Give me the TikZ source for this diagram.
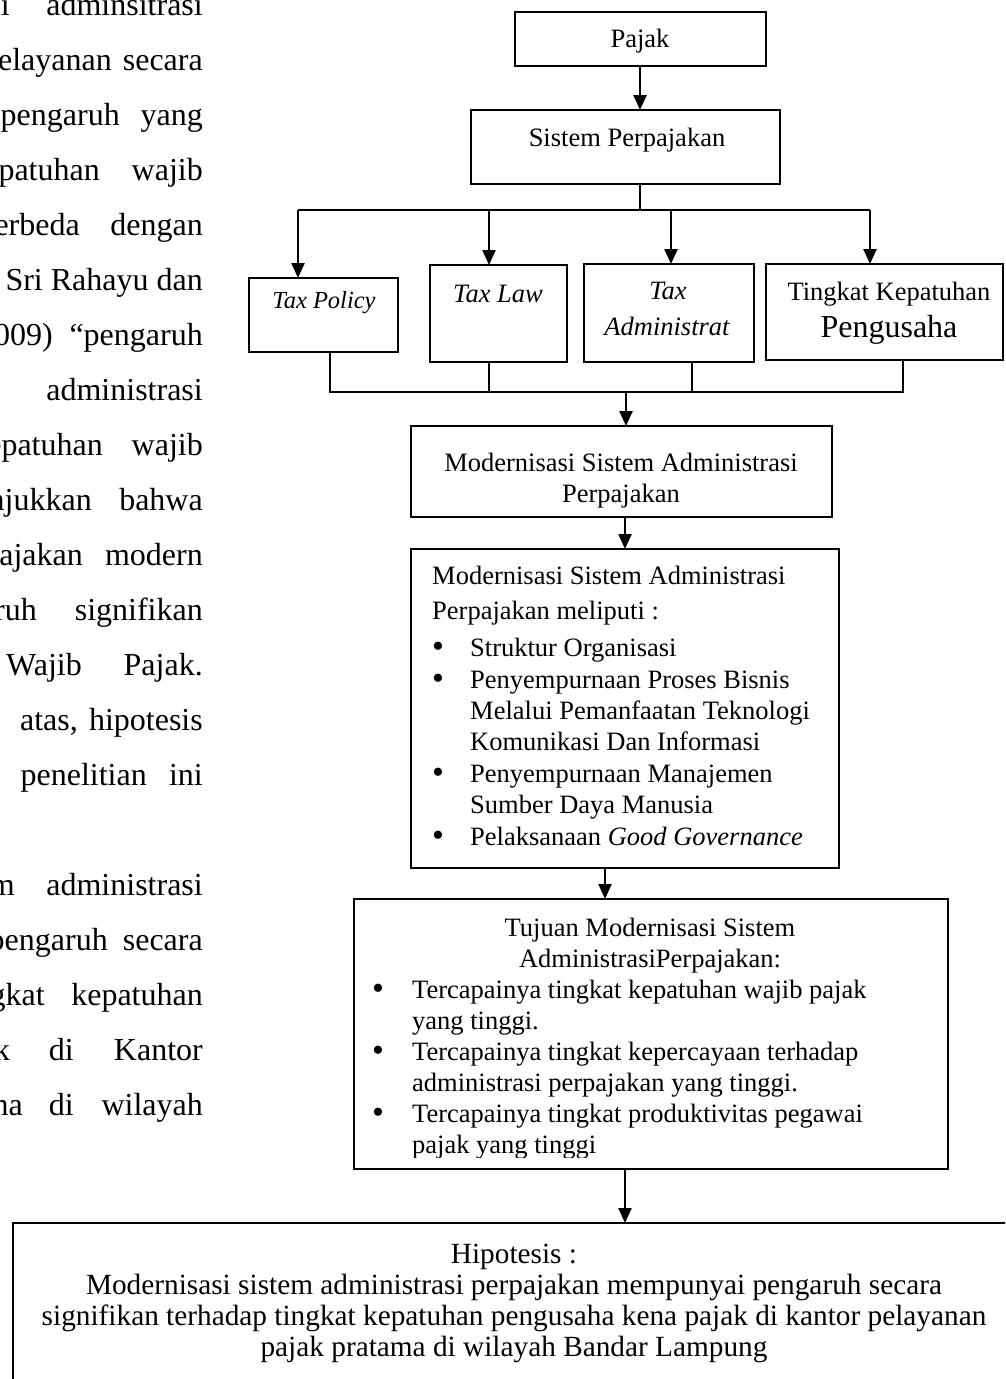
\documentclass[tikz,border=0pt]{standalone}
\usepackage{fontspec}
\setmainfont{Liberation Serif}
\usetikzlibrary{arrows.meta}
\begin{document}
\begin{tikzpicture}[x=1pt,y=-1pt,
  box/.style={draw, line width=2pt, rectangle, inner sep=0pt, outer sep=0pt, anchor=north west},
  con/.style={line width=2pt},
  arr/.style={line width=2.4pt, -{Triangle[length=15pt,width=13pt]}},
  tx/.style={inner sep=0pt, anchor=base, font=\fontsize{26.5}{30}\selectfont},
  tl/.style={inner sep=0pt, anchor=base west, font=\fontsize{26.5}{30}\selectfont},
  bul/.style={inner sep=0pt, anchor=base, font=\fontsize{34}{34}\selectfont},
  ht/.style={inner sep=0pt, anchor=base, font=\fontsize{29.3}{33}\selectfont},
  lt/.style={inner sep=0pt, anchor=base east, font=\fontsize{32}{38}\selectfont},
]
\useasboundingbox (0,0) rectangle (1005,1379);
\clip (0,0) rectangle (1005,1379);

% ---------- left running text (clipped page) ----------
\node[lt] (l0a) at (10,15) {si};
\node[lt] (l0b) at (203,15) {adminsitrasi};
\node[lt] (l1a) at (112,70) {elayanan};
\node[lt] (l1b) at (203,70) {secara};
\node[lt] (l2a) at (120,125) {pengaruh};
\node[lt] (l2b) at (203,125) {yang};
\node[lt] (l3a) at (100,180) {patuhan};
\node[lt] (l3b) at (203,180) {wajib};
\node[lt] (l4a) at (80,235) {erbeda};
\node[lt] (l4b) at (203,235) {dengan};
\node[lt] (l5) at (203,290) {Sri Rahayu dan};
\node[lt] (l6a) at (53,345) {009)};
\node[lt] (l6b) at (203,345) {“pengaruh};
\node[lt] (l7) at (203,400) {administrasi};
\node[lt] (l8a) at (103,455) {epatuhan};
\node[lt] (l8b) at (203,455) {wajib};
\node[lt] (l9a) at (92,510) {njukkan};
\node[lt] (l9b) at (203,510) {bahwa};
\node[lt] (l10a) at (83,565) {pajakan};
\node[lt] (l10b) at (203,565) {modern};
\node[lt] (l11a) at (37,620) {ruh};
\node[lt] (l11b) at (203,620) {signifikan};
\node[lt] (l12a) at (82,675) {Wajib};
\node[lt] (l12b) at (203,675) {Pajak.};
\node[lt] (l13a) at (78,730) {atas,};
\node[lt] (l13b) at (203,730) {hipotesis};
\node[lt] (l14a) at (147,785) {penelitian};
\node[lt] (l14b) at (203,785) {ini};
\node[lt] (l16a) at (15,895) {m};
\node[lt] (l16b) at (203,895) {administrasi};
\node[lt] (l17a) at (108,950) {pengaruh};
\node[lt] (l17b) at (203,950) {secara};
\node[lt] (l18a) at (45,1005) {gkat};
\node[lt] (l18b) at (203,1005) {kepatuhan};
\node[lt] (l19a) at (10,1060) {k};
\node[lt] (l19b) at (74,1060) {di};
\node[lt] (l19c) at (203,1060) {Kantor};
\node[lt] (l20a) at (23,1115) {na};
\node[lt] (l20b) at (74,1115) {di};
\node[lt] (l20c) at (203,1115) {wilayah};

% ---------- boxes ----------
\node[box, minimum width=251pt, minimum height=54pt] (pajak) at (515,12) {};
\node[box, minimum width=309pt, minimum height=74pt] (sistem) at (471,110) {};
\node[box, minimum width=149pt, minimum height=74pt] (tp) at (249,278) {};
\node[box, minimum width=137pt, minimum height=97pt] (tlaw) at (430,265) {};
\node[box, minimum width=170pt, minimum height=98pt] (ta) at (584,264) {};
\node[box, minimum width=237pt, minimum height=96pt] (tk) at (766,264) {};
\node[box, minimum width=421pt, minimum height=91pt] (mod) at (411,426) {};
\node[box, minimum width=428pt, minimum height=319pt] (meli) at (411,549) {};
\node[box, minimum width=594pt, minimum height=270pt] (tuj) at (354,899) {};
\node[box, minimum width=1020pt, minimum height=220pt] (hyp) at (13,1223) {};

% ---------- box texts ----------
\node[tx] (tpajak) at (640,47) {Pajak};
\node[tx] (tsistem) at (627,146) {Sistem Perpajakan};
\node[tx, font=\fontsize{24.5}{28}\selectfont\itshape] (ttp) at (324,308) {Tax Policy};
\node[tx, font=\fontsize{26.5}{30}\selectfont\itshape] (ttl) at (498,302) {Tax Law};
\node[tx, font=\fontsize{26.5}{30}\selectfont\itshape] (tta1) at (668,299) {Tax};
\node[tx, font=\fontsize{26.5}{30}\selectfont\itshape] (tta2) at (667,335) {Administrat};
\node[tx] (ttk1) at (889,300) {Tingkat Kepatuhan};
\node[tx, font=\fontsize{32}{38}\selectfont] (ttk2) at (889,337) {Pengusaha};

\node[tx] (tmod1) at (621,471) {Modernisasi Sistem Administrasi};
\node[tx] (tmod2) at (621,502) {Perpajakan};

\node[tl] (m1) at (432,584) {Modernisasi Sistem Administrasi};
\node[tl] (m2) at (432,619) {Perpajakan meliputi :};
\node[bul] (mb1) at (438,657) {•};
\node[tl] (m3) at (470,656) {Struktur Organisasi};
\node[bul] (mb2) at (438,689) {•};
\node[tl] (m4) at (470,688) {Penyempurnaan Proses Bisnis};
\node[tl] (m5) at (470,719) {Melalui Pemanfaatan Teknologi};
\node[tl] (m6) at (470,750) {Komunikasi Dan Informasi};
\node[bul] (mb3) at (438,783) {•};
\node[tl] (m7) at (470,782) {Penyempurnaan Manajemen};
\node[tl] (m8) at (470,813) {Sumber Daya Manusia};
\node[bul] (mb4) at (438,846) {•};
\node[tl] (m9) at (470,845) {Pelaksanaan \textit{Good Governance}};

\node[tx] (u1) at (650,936) {Tujuan Modernisasi Sistem};
\node[tx] (u2) at (650,967) {AdministrasiPerpajakan:};
\node[bul] (ub1) at (378,999) {•};
\node[tl] (u3) at (412,998) {Tercapainya tingkat kepatuhan wajib pajak};
\node[tl] (u4) at (412,1029) {yang tinggi.};
\node[bul] (ub2) at (378,1061) {•};
\node[tl] (u5) at (412,1060) {Tercapainya tingkat kepercayaan terhadap};
\node[tl] (u6) at (412,1091) {administrasi perpajakan yang tinggi.};
\node[bul] (ub3) at (378,1123) {•};
\node[tl] (u7) at (412,1122) {Tercapainya tingkat produktivitas pegawai};
\begin{scope}
\clip (356,1100) rectangle (946,1157);
\node[tl] (u8) at (412,1153) {pajak yang tinggi};
\end{scope}

\node[ht] (h1) at (514,1263) {Hipotesis :};
\node[ht] (h2) at (514,1294) {Modernisasi sistem administrasi perpajakan mempunyai pengaruh secara};
\node[ht] (h3) at (514,1325) {signifikan terhadap tingkat kepatuhan pengusaha kena pajak di kantor pelayanan};
\node[ht] (h4) at (514,1356) {pajak pratama di wilayah Bandar Lampung};

% ---------- connectors ----------
\coordinate (a1) at (640,66);
\draw[arr] (a1) -- (a1 |- sistem.north);
\coordinate (j1) at (640,210);
\draw[con] (a1 |- sistem.south) -- (j1);
\coordinate (t1) at (298,210);
\coordinate (t2) at (489,210);
\coordinate (t3) at (671,210);
\coordinate (t4) at (870,210);
\draw[con] (t1) -- (t4);
\draw[arr] (t1) -- (t1 |- tp.north);
\draw[arr] (t2) -- (t2 |- tlaw.north);
\draw[arr] (t3) -- (t3 |- ta.north);
\draw[arr] (t4) -- (t4 |- tk.north);

\coordinate (b1) at (330,392);
\coordinate (b2) at (489,392);
\coordinate (b3) at (692,392);
\coordinate (b4) at (903,392);
\coordinate (b0) at (626,392);
\draw[con] (b1 |- tp.south) -- (b1) -- (b4) -- (b4 |- tk.south);
\draw[con] (b2 |- tlaw.south) -- (b2);
\draw[con] (b3 |- ta.south) -- (b3);
\draw[arr] (b0) -- (b0 |- mod.north);

\coordinate (c1) at (625,517);
\draw[arr] (c1) -- (c1 |- meli.north);
\coordinate (c2) at (605,868);
\draw[arr] (c2) -- (c2 |- tuj.north);
\coordinate (c3) at (625,1169);
\draw[arr] (c3) -- (c3 |- hyp.north);
\end{tikzpicture}
\end{document}
